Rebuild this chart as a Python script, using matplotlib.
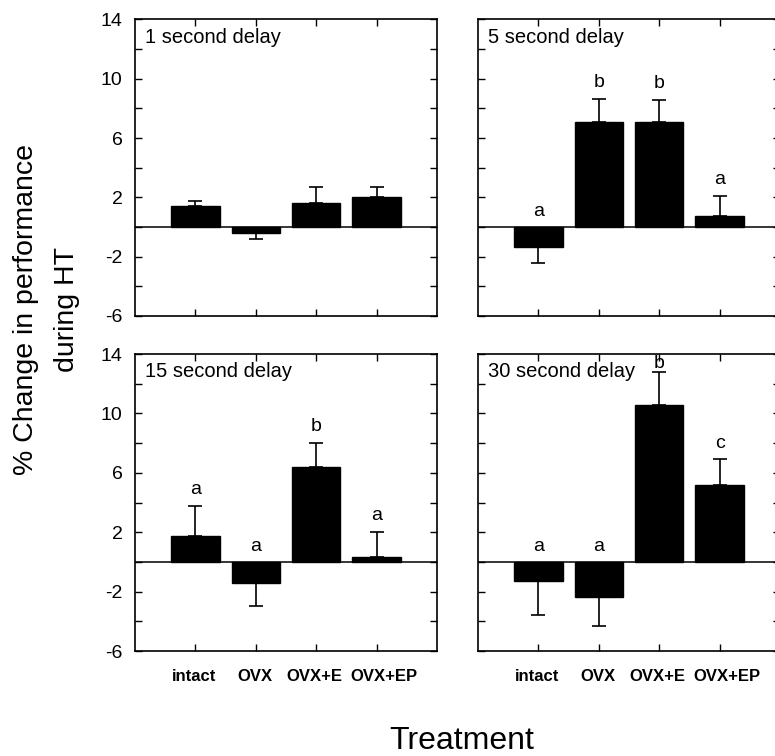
import matplotlib
matplotlib.use("Agg")
import matplotlib.pyplot as plt
import matplotlib.transforms as mtransforms
import numpy as np

plt.rcParams['font.family'] = ['Liberation Sans', 'DejaVu Sans']
plt.rcParams['axes.unicode_minus'] = False

categories = ["intact", "OVX", "OVX+E", "OVX+EP"]
panel_titles = ["1 second delay", "5 second delay", "15 second delay", "30 second delay"]

means_1s = [1.4, -0.4, 1.6, 2.05]
sem_1s = [0.35, 0.4, 1.1, 0.65]
letters_1s = ["", "", "", ""]

means_5s = [-1.35, 7.1, 7.1, 0.75]
sem_5s = [1.1, 1.55, 1.5, 1.35]
letters_5s = ["a", "b", "b", "a"]

means_15s = [1.75, -1.45, 6.4, 0.3]
sem_15s = [2.0, 1.5, 1.6, 1.7]
letters_15s = ["a", "a", "b", "a"]

means_30s = [-1.3, -2.35, 10.55, 5.2]
sem_30s = [2.25, 1.95, 2.25, 1.7]
letters_30s = ["a", "a", "b", "c"]

y_ticks = [14, 10, 6, 2, -2, -6]

W, H = 775, 756
fig = plt.figure(figsize=(W / 100, H / 100), dpi=100)

def px_rect(left, top, right, bottom):
    return [left / W, 1 - bottom / H, (right - left) / W, (bottom - top) / H]

rects = [
    px_rect(135, 19.5, 437, 316),
    px_rect(478, 19.5, 780, 316),
    px_rect(135, 354, 437, 651),
    px_rect(478, 354, 780, 651),
]

data = [
    (means_1s, sem_1s, letters_1s),
    (means_5s, sem_5s, letters_5s),
    (means_15s, sem_15s, letters_15s),
    (means_30s, sem_30s, letters_30s),
]

x = np.arange(1, len(categories) + 1)

for i, (rect, (m, s, lets), title) in enumerate(zip(rects, data, panel_titles)):
    ax = fig.add_axes(rect)
    m = np.array(m)
    s = np.array(s)
    lower = np.where(m < 0, s, 0)
    upper = np.where(m >= 0, s, 0)
    ax.bar(x, m, width=0.8, color='black', edgecolor='black', zorder=2)
    ax.errorbar(x, m, yerr=[lower, upper], fmt='none', ecolor='black',
                elinewidth=1.2, capsize=5, capthick=1.2, zorder=3)
    ax.axhline(0, color='black', linewidth=1.1, zorder=4)
    for xi, mi, si, lt in zip(x, m, s, lets):
        if not lt:
            continue
        top = mi + si if mi >= 0 else 0.0
        ly = min(top + 1.1, 13.35) if mi >= 0 else 1.05
        ax.text(xi, ly, lt, ha='center', va='center', fontsize=14, zorder=5)
    ax.set_xlim(0, 5)
    ax.set_ylim(-6, 14)
    ax.set_yticks(np.arange(-6, 15, 2))
    if i % 2 == 0:
        ax.set_yticklabels([str(v) if v in y_ticks else "" for v in np.arange(-6, 15, 2)],
                           fontsize=14)
    else:
        ax.set_yticklabels([])
    ax.set_xticks(x)
    ax.tick_params(axis='both', direction='in', length=5, width=1,
                   top=True, right=True)
    ax.tick_params(axis='y', pad=9)
    ax.tick_params(axis='x', pad=13)
    if i >= 2:
        ax.set_xticklabels(categories, fontsize=12, fontweight='bold')
        shifts = [-1, -1, -2, 7]
        for lbl, dx in zip(ax.get_xticklabels(), shifts):
            lbl.set_transform(lbl.get_transform() +
                              mtransforms.ScaledTranslation(dx / 100, 0, fig.dpi_scale_trans))
    else:
        ax.set_xticklabels([])
    for sp in ax.spines.values():
        sp.set_linewidth(1.2)
    ax.text(0.033, 0.94, title, transform=ax.transAxes, ha='left', va='center',
            fontsize=14.5)

fig.text(47 / W, 1 - 310 / H, "% Change in performance\nduring HT", rotation=90,
         ha='center', va='center', fontsize=20.5, linespacing=1.75,
         multialignment='center')
fig.text(462 / W, 1 - 741 / H, "Treatment", ha='center', va='center', fontsize=23)

fig.savefig("out.png", dpi=100)
